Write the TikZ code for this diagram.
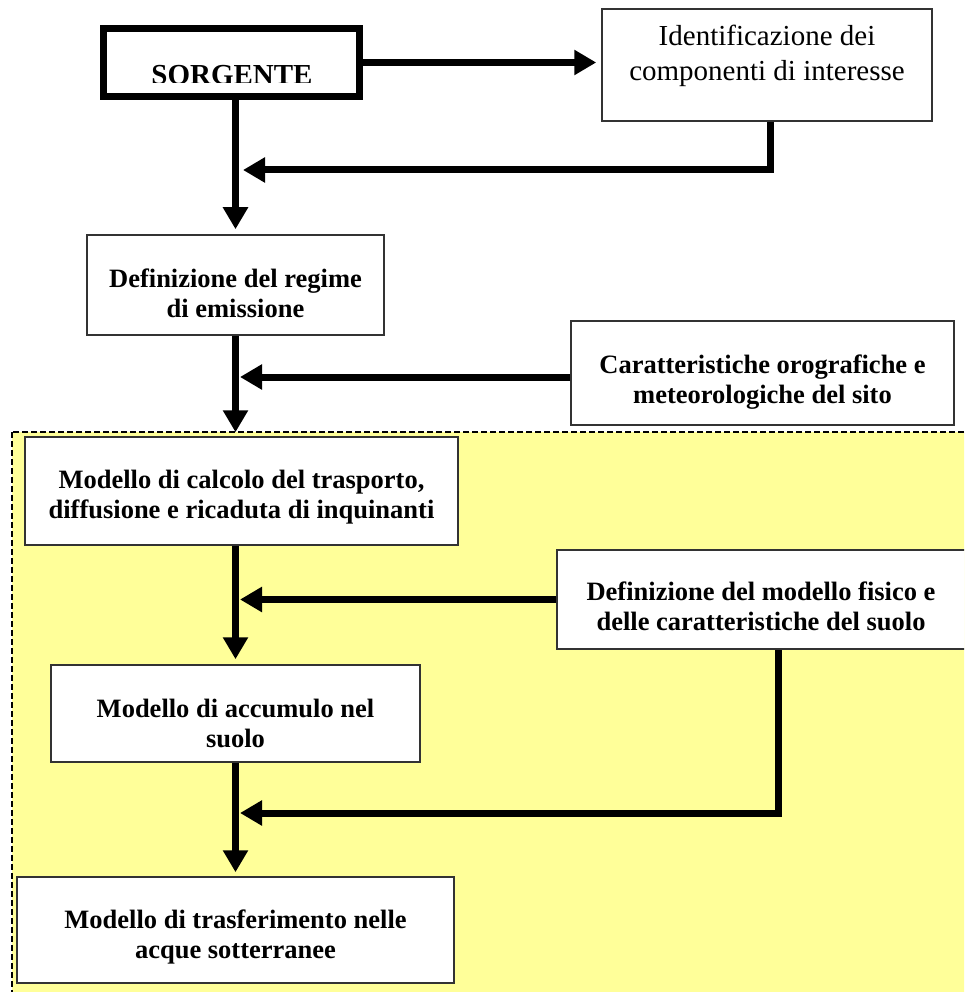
\documentclass[tikz,border=0pt]{standalone}
\usepackage{fontspec}
\setmainfont{Liberation Serif}
\usetikzlibrary{arrows.meta,calc}
\definecolor{areayellow}{HTML}{FFFF99}
\definecolor{boxline}{HTML}{333333}
\tikzset{
  box/.style={draw=boxline, line width=1.5pt, fill=white, rectangle, inner sep=0pt},
  srcbox/.style={draw=black, line width=7pt, fill=white, rectangle, inner sep=0pt},
  btxt/.style={inner sep=0pt, align=center, font=\bfseries\fontsize{26.5}{30}\selectfont},
  ntxt/.style={inner sep=0pt, align=center, font=\fontsize{29}{35}\selectfont},
  conn/.style={line width=7pt, draw=black, line join=miter},
  arr/.style={conn, -{Triangle[width=24pt,length=22pt]}},
}
\begin{document}
\begin{tikzpicture}[x=1pt,y=1pt]
\clip (0,0) rectangle (964,-992);
\fill[white] (0,0) rectangle (964,-992);
% yellow area
\draw[fill=areayellow, draw=black, line width=1.5pt, dash pattern=on 6pt off 3pt] (12,-432) rectangle (990,-1010);

% boxes
\node[srcbox, minimum width=256pt, minimum height=68pt] (src) at (231.5,-62.5) {};
\begin{scope}
\clip (100,-25) rectangle (363,-83);
\node[inner sep=0pt, anchor=base, font=\bfseries\fontsize{29}{35}\selectfont] (srct) at (232,-84.5) {SORGENTE};
\end{scope}
\node[box, minimum width=330pt, minimum height=112pt] (ident) at (767,-65) {};
\node[ntxt] (identt) at (767,-55.7) {Identificazione dei\\componenti di interesse};

\node[box, minimum width=297pt, minimum height=100pt] (regime) at (235.5,-285) {};
\node[btxt] (regimet) at (235.5,-293) {Definizione del regime\\di emissione};

\node[box, minimum width=383pt, minimum height=104pt] (car) at (762.5,-373) {};
\node[btxt] (cart) at (762.5,-381.7) {Caratteristiche orografiche e\\meteorologiche del sito};

\node[box, minimum width=433pt, minimum height=108pt] (calc) at (241.5,-491) {};
\node[btxt] (calct) at (241.5,-496.7) {Modello di calcolo del trasporto,\\diffusione e ricaduta di inquinanti};

\node[box, minimum width=423pt, minimum height=99pt] (fis) at (768.5,-599.5) {};
\node[btxt] (fist) at (761,-606) {Definizione del modello fisico e\\delle caratteristiche del suolo};

\node[box, minimum width=369pt, minimum height=97pt] (acc) at (235.5,-713.5) {};
\node[btxt] (acct) at (235.5,-723) {Modello di accumulo nel\\suolo};

\node[box, minimum width=437pt, minimum height=106pt] (tra) at (235.5,-930) {};
\node[btxt] (trat) at (235.5,-936.7) {Modello di trasferimento nelle\\acque sotterranee};

% junction coordinates
\coordinate (j1) at (243,-170);
\coordinate (j2) at (240,-377);
\coordinate (j3) at (240,-599.5);
\coordinate (j4) at (240,-813);
\coordinate (c4) at (778,-813);

% connectors
\draw[arr] (src.east) -- ([xshift=-5pt]src.east -| ident.west);
\draw[arr] ([xshift=3pt]ident.south) |- (j1);
\draw[arr] (src.south -| regime.north) -- ([yshift=5pt]regime.north);
\draw[arr] (regime.south) -- ([yshift=4pt]calc.north -| regime.south);
\draw[arr] ([yshift=-4pt]car.west) -- (j2);
\draw[arr] (calc.south -| acc.north) -- ([yshift=5pt]acc.north);
\draw[arr] (fis.west) -- (j3);
\draw[arr] (acc.south) -- ([yshift=4pt]tra.north -| acc.south);
\draw[arr] (fis.south -| c4) -- (c4) -- (j4);
\end{tikzpicture}
\end{document}
